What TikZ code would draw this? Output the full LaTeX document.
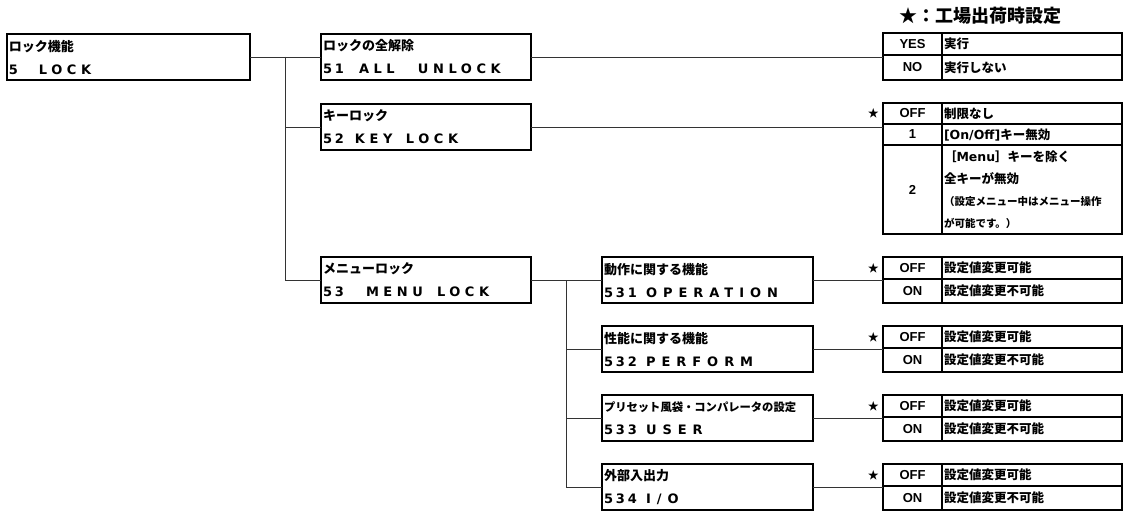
\documentclass[tikz,border=0pt]{standalone}
\usepackage{fontspec}
\setmainfont{Liberation Sans}
\newfontfamily\jpfont{Noto Sans CJK JP}
\newfontfamily\codefont[LetterSpace=35]{DejaVu Sans}
\newfontfamily\subcodefont[LetterSpace=46]{DejaVu Sans}
\newfontfamily\numfont[LetterSpace=22]{DejaVu Sans}
\newfontfamily\latinfont{DejaVu Sans}
\usetikzlibrary{positioning,calc}
\newcommand{\field}[2]{\makebox[#1pt][l]{#2}}

\tikzset{
  menubox/.style={draw, line width=1.8pt, outer sep=0pt, anchor=north west,
    inner xsep=2pt, inner ysep=0pt, text width=#1, minimum height=46pt,
    align=left, font=\bfseries\fontsize{13}{23}\selectfont},
  keycell/.style={draw, line width=1.6pt, outer sep=0pt, inner sep=0pt,
    anchor=north west, minimum width=59pt, minimum height=#1,
    font=\bfseries\fontsize{13}{15}\selectfont},
  valcell/.style={draw, line width=1.6pt, outer sep=0pt, inner xsep=2pt,
    inner ysep=0pt, anchor=north west, text width=176pt, align=left,
    minimum height=#1, font=\jpfont\bfseries\fontsize{12.5}{22}\selectfont},
  starmark/.style={inner sep=0pt, font=\jpfont\fontsize{11}{12}\selectfont},
  conn/.style={draw=black!80, line width=0.8pt}
}

\begin{document}
\begin{tikzpicture}[x=1pt,y=-1pt]
\useasboundingbox (0,0) rectangle (1124,511);

\node[font=\jpfont\bfseries\fontsize{18}{20}\selectfont] (legend) at (980,16) {★：工場出荷時設定};

% lock tree
\node[menubox=239pt] (lock) at (7,34)
  {{\jpfont ロック機能}\\{\field{30}{\numfont 5}\codefont LOCK}};
\node[menubox=206pt] (allunlock) at (321,34)
  {{\jpfont ロックの全解除}\\{\field{36}{\numfont 51}\codefont\field{59}{ALL}UNLOCK}};
\node[menubox=206pt] (keylock) at (321,104)
  {{\jpfont キーロック}\\{\field{32}{\numfont 52}\codefont\field{51}{KEY}LOCK}};
\node[menubox=206pt] (menulock) at (321,257)
  {{\jpfont メニューロック}\\{\field{43}{\numfont 53}\codefont\field{71}{MENU}LOCK}};

\coordinate (trunk1) at ($(lock.east)!0.5!(allunlock.west)$);
\draw[conn] (lock.east) -- (allunlock.west);
\draw[conn] (trunk1) |- (keylock.west);
\draw[conn] (trunk1) |- (menulock.west);

% all unlock
\node[keycell=22pt] (allunlock-yes) at (883,33) {YES};
\node[valcell=22pt] (allunlock-yesv) at (allunlock-yes.north east) {実行};
\node[keycell=25pt] (allunlock-no) at (allunlock-yes.south west) {NO};
\node[valcell=25pt] (allunlock-nov) at (allunlock-no.north east) {実行しない};
\draw[conn] (allunlock.east) -- (allunlock.east -| allunlock-yes.west);

% key lock
\node[keycell=21pt] (keylock-off) at (883,103) {OFF};
\node[valcell=21pt] (keylock-offv) at (keylock-off.north east) {制限なし};
\node[keycell=21pt] (keylock-one) at (keylock-off.south west) {1};
\node[valcell=21pt] (keylock-onev) at (keylock-one.north east) {{\latinfont\bfseries [On/Off]}キー無効};
\node[keycell=89pt] (keylock-two) at (keylock-one.south west) {2};
\node[valcell=89pt] (keylock-twov) at (keylock-two.north east)
  {［{\latinfont\bfseries Menu}］キーを除く\\全キーが無効\\
   {\fontsize{10.5}{22}\selectfont （設定メニュー中はメニュー操作}\\
   {\fontsize{10.5}{22}\selectfont が可能です。）}};
\node[starmark, left=4pt of keylock-off] (keylock-star) {★};
\draw[conn] (keylock.east) -- (keylock.east -| keylock-off.west);

% menu lock
\coordinate (trunk2) at (566,280);
\foreach \nm/\num/\ty/\title/\word in {
    operation/531/257/{動作に関する機能}/{OPERATION},
    perform/532/326/{性能に関する機能}/{PERFORM},
    user/533/395/{\fontsize{11.3}{23}\selectfont プリセット風袋・コンパレータの設定}/{USER},
    io/534/464/{外部入出力}/{I/O}}{
  \node[menubox=207pt] (\nm) at (602,\ty)
    {{\jpfont\title}\\{\field{42}{\numfont\num}\subcodefont\word}};
  \draw[conn] (trunk2) |- (\nm.west);
  \node[keycell=22pt] (\nm-off) at (883,\ty) {OFF};
  \node[valcell=22pt] (\nm-offv) at (\nm-off.north east) {設定値変更可能};
  \node[keycell=24pt] (\nm-on) at (\nm-off.south west) {ON};
  \node[valcell=24pt] (\nm-onv) at (\nm-on.north east) {設定値変更不可能};
  \node[starmark, left=4pt of \nm-off] (\nm-star) {★};
  \draw[conn] (\nm.east) -- (\nm.east -| \nm-off.west);
}
\draw[conn] (menulock.east) -- (trunk2);

\end{tikzpicture}
\end{document}
